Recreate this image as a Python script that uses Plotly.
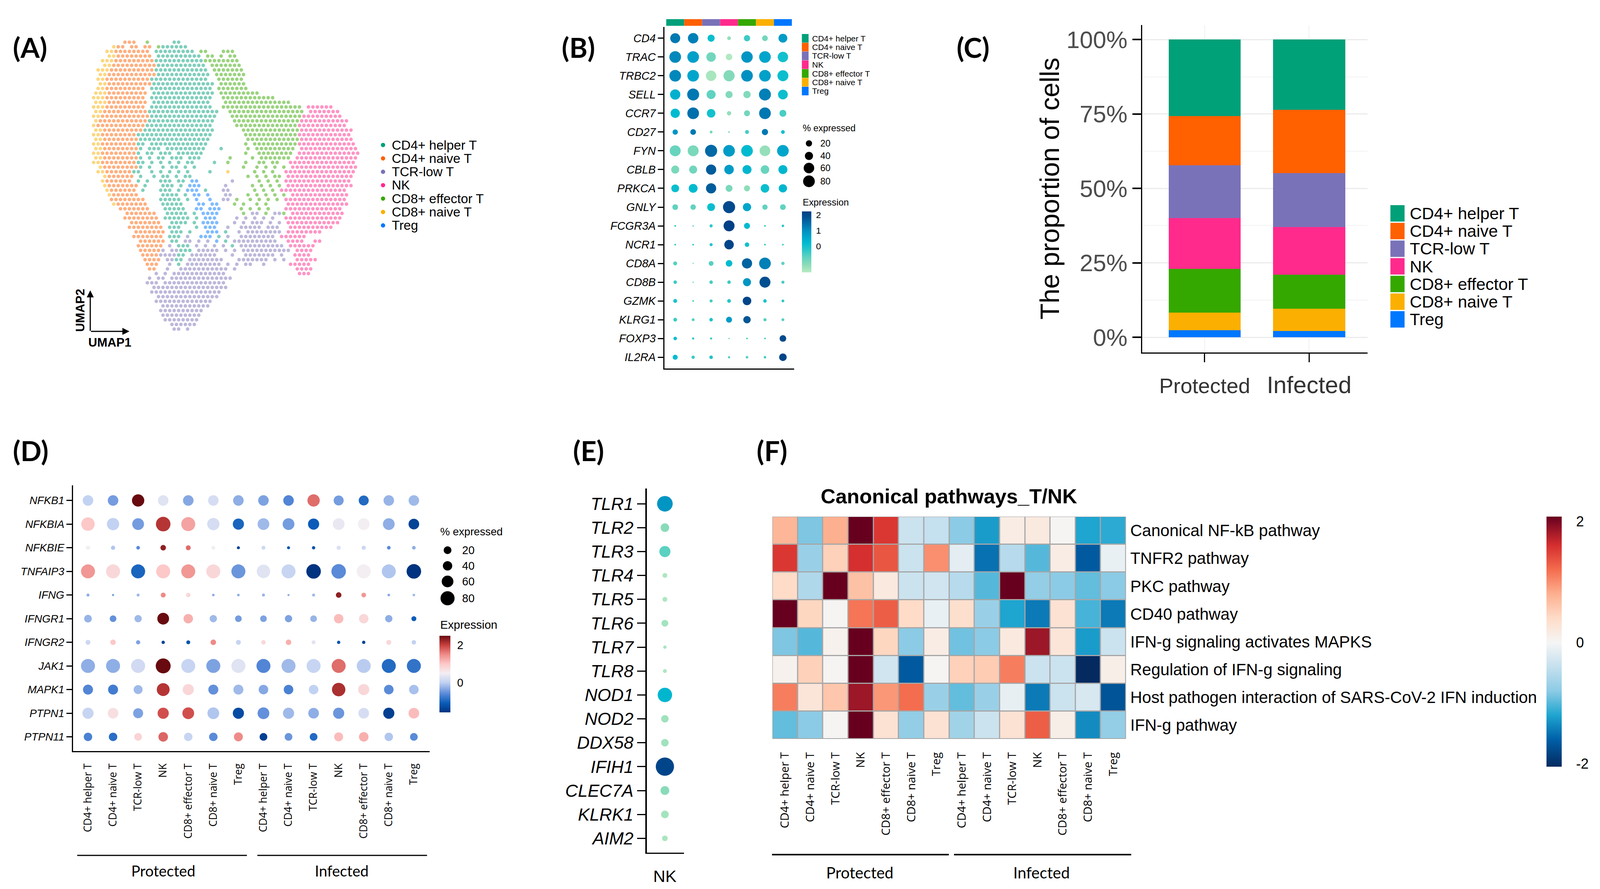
import numpy as np
import plotly.graph_objects as go

# reference size; the page fills the window and all placing below is in fractions of it
W, H = 4290, 2275
SHOWN_W = 4096  # width the browser window really gives
FS = SHOWN_W / W
SANS = "Liberation Sans"
LABEL = "Lato"
OPEN = "Open Sans"

# ---- shared categories
CELL_TYPES = ["CD4+ helper T", "CD4+ naive T", "TCR-low T", "NK", "CD8+ effector T", "CD8+ naive T", "Treg"]
CELL_COLORS = ["#00a079", "#ff6000", "#7a72b8", "#ff2a8c", "#35a800", "#fbaf00", "#0077ff"]
CLUSTER_CODES = "HNTKEVR"
GROUP_COLUMNS = CELL_TYPES + CELL_TYPES

# ---- panel A: occupied cells of the UMAP, one code per cell
UMAP_ROWS = [
    ".......NNN..E.....HH",
    "....VNN.NN.NN.EHHHHHH",
    "...VVNNNNNNNN.HHHHHHHHH.EE...EEE",
    "...VVNNNNNNNN.HHHHHHHHHH.EE.E.EE",
    "..VVVNNNNNNNNNHHHHHHHHHHHEEEEEEEE",
    "..VVNNNNNNNNNNHHHHHHHHHHH.EEEEEEE",
    ".VVVNNNNNNNNNNHHHHHHHHHHHH.EEEEEEE",
    ".VVNNNNNNNNNNNHHHHHHHHHHHH.EEEEEEE",
    ".VVNNNNNNNNNNHHHHHHHHHHHHH..EEEEEE",
    ".VVNNNNNNNNNNHHHHHHHHHHHHHH.EEEEEE",
    ".VVNNNNNNNNN.HHHHHHHHHHHHHH.EEEEEEE",
    "VVVNNNNNNNNN.HHHHHHHHHHHHHH.EEEEEEEEE",
    "VVVNNNNNNNNN.HHHHHHHHHHHHHH..EEEEEEEEEEEE",
    "VVVNNNNNNNNN.HHHHHHHHHHHHH...EEEEEEEEEEEEEEE",
    "VVVNNNNNNNNN.HHHHHHHHHHHHHH..EEEEEEEEEEEEEEEEEE.KKKKKK",
    "VVNNNNNNNNNNHHHHHHHHHHHHHHHH..EEEEEEEEEEEEEEEEE.KKKKKKK",
    "VVNNNNNNNNNNNHHHHHHHHHHHHHHH...EEEEEEEEEEEEEEEEKKKKKKKKK",
    "VNNNNNNNNNNNHHHHHHHHHHHHHHH....EEEEEEEEEEEEEEEKKKKKKKKKKK",
    "VNNNNNNNNNNNHHHHHHHHHHHHHHH.....EEEEEEEEEEEEEEKKKKKKKKKKK",
    "VVNNNNNNNNNHHHHHHHHHHHHHHHH......EEEEEEEEEEEEEKKKKKKKKKKKK",
    "VVNNNNNNNNHHHHHHHHHHHHHHHHH.......EEEEEEEEEEEEKKKKKKKKKKKK",
    "VVNNNNNNNNHHHHHHHHHHHHHHHH........EEEEEEEEEEEEKKKKKKKKKKKK",
    "VVNNNNNNNNHH.HHHHHHHHHHHHH........E.EEEEEEEEEEKKKKKKKKKKKKK",
    "VVNNNNNNNNH.HHH.HHHHHHHHH...H.....E.EEEEEEEEE.KKKKKKKKKKKKK",
    "VVNNNNNNNNH.HH.HHH.HHHHHH.........E..EEEEEEEE.KKKKKKKKKKKKKK",
    "VVNNNNNNNNH.H.HH.HHH.HHH......E....E.EEEEEEE.KKKKKKKKKKKKKK",
    "VVNNNNNNNNHH.H.H.H.H.HH....H..E...E..EE.EE..KKKKKKKKKKKKKKK",
    ".VNNNNNNNNH.H..H.HH.H.H..........E..E.E.E.E.KKKKKKKKKKKKKKK",
    ".VVNNNNNNHH..H.H.H.H.H....H...V.....E.E.E..KKKKKKKKKKKKKKKK",
    "..VNNNNNN.H..H.HH.H.HH............E.E.E.EE.KKKKKKKKKKKKKKK",
    "..VNNNNNN.H.H..HHH.HH.RR.......T.....E.E.E.KKKKKKKKKKKKKKK",
    "..VNNNNNNN.H...HHH.H.RRR.....T.....E.E.E.E.KKKKKKKKKKKKKKK",
    "...VNNNNNN.H...HHH.H.RRR.H...TT.....E.E.E.KKKKKKKKKKKKKKK",
    "...VNNNNNN.....HHHH.H.RR.R...TT...E.E.E.E.E.KKKKKKKKKKKKK",
    "....NNNNNNNN...HHHHH.H.R..R..TT.E..E.E.E.E.KKKKKKKKKKKKKK",
    "....VNNNNNNN...HHHHH...RR.RR...E.E..E.E....KKKKKKKKKKKKKK",
    "......NNNNNNN...HHHHH..RR.RRR....E.E.E.E...KKKKKKKKKKKKK",
    ".......NNNNNNN..HHHHH.H.RRRR.....E.TT.E.TTE.KKKKKKKKKKKK",
    ".......NNNNNNNN.HHHHHH.H.RRR....T.T.T.T.T..KKKKKKKKKKKKK",
    "........NNNNNNN..HHHH.H.RRRR...T.T.TTT.T.T.KKKKKKKKKKKK",
    "........NNNNNNNN.HHH...H.RRR..T..TTTTT.TTT..KKKKKKKKKK",
    ".........NNNNNNN.HHH.H...RRR.H..T.TTTTTTTT.KKKKKKKK",
    ".........NNNNNNN.HHH.T..RRR.H.T..TTTTTTTT.KKKKKK",
    "..........NNNNNN.HH.TT.T.T.R.H.TTTTTTTTTT..KKKK..KK",
    "..........NNNNNN.T.HHH.T.T.T.T.H.TTTTTTTTTT.KKKKKK",
    "..........NNNNNT.TTHHH.TTTTT.T.T.TTTTTTTTTTT.KKKK",
    "...........NNNNTTTTHH.TTTTTT...T..TTTTTTT.T..KKKK",
    "...........NNNN.TTHH.TTTTTTTT...TTTTTTT.T.T..KKKKK",
    "............NNN..T.H.TTTTTTTT.T.T.TT..T.....KKKKK",
    "............NN..T..TTTTTTTTTTT.T.............KKKK",
    "..............T.T.TTTTTTTTTTTT................KKK",
    "............T.TT.TTTTTTTTTTTTTT",
    "............TTT.TTTTTTTTTTTTTT",
    ".............TTTTTTTTTTTTTTTTT",
    ".............TTTTTTTTTTTTTTTT",
    "..............TTTTTTTTTTTTTT",
    "..............TTTTTTTTTTTTT",
    "...............TTTTTTTTTTT",
    "...............TTTTTTTTTT",
    "...............TTTTTTTTT",
    "................TTTTTTTT",
    ".................TTTTTT",
    "..................TT.T",
]

# ---- panel B
B_GENES = ["CD4", "TRAC", "TRBC2", "SELL", "CCR7", "CD27", "FYN", "CBLB", "PRKCA", "GNLY", "FCGR3A", "NCR1",
           "CD8A", "CD8B", "GZMK", "KLRG1", "FOXP3", "IL2RA"]
B_PCT = [
    [64, 70, 33, 9, 25, 21, 50],
    [87, 87, 58, 28, 84, 87, 70],
    [87, 87, 70, 80, 87, 87, 77],
    [67, 91, 52, 33, 35, 91, 61],
    [55, 87, 47, 12, 23, 87, 31],
    [18, 21, 5, 2, 10, 25, 9],
    [77, 77, 94, 87, 87, 73, 87],
    [42, 42, 67, 58, 52, 47, 52],
    [40, 50, 67, 31, 23, 47, 44],
    [21, 19, 40, 94, 44, 18, 21],
    [2, 1, 6, 77, 23, 2, 4],
    [2, 2, 6, 58, 13, 2, 2],
    [10, 1, 15, 28, 67, 87, 7],
    [8, 1, 8, 8, 42, 77, 6],
    [10, 2, 6, 9, 47, 8, 5],
    [9, 5, 8, 23, 35, 6, 5],
    [8, 3, 3, 1, 2, 2, 28],
    [16, 7, 8, 3, 4, 4, 37],
]
B_EXPR = [
    [1.3, 1.2, 0.1, -1.3, -0.4, -0.9, 0.8],
    [1.1, 0.7, -0.9, -1.6, 0.9, 0.6, 0.0],
    [1.1, 0.6, -1.5, -1.1, 1.0, 0.7, 0.1],
    [0.4, 1.3, -0.7, -1.1, -1.1, 1.2, 0.1],
    [0.2, 1.4, 0.0, -1.3, -0.9, 1.3, -0.5],
    [0.9, 1.3, -1.0, -1.2, -0.5, 1.3, 0.0],
    [-0.8, -1.0, 1.5, 0.8, 0.2, -1.3, 0.6],
    [-1.0, -0.9, 1.7, 0.8, 0.3, -0.8, 0.3],
    [0.1, 0.2, 1.7, -1.0, -1.2, 0.1, 0.3],
    [-0.7, -0.7, 0.1, 2.0, 0.6, -0.7, -0.7],
    [-0.2, -0.2, -0.3, 2.2, 0.2, -0.3, -0.3],
    [-0.3, -0.3, -0.2, 2.1, 0.0, -0.3, -0.4],
    [-0.6, -0.9, -0.6, 0.2, 1.6, 1.2, -0.7],
    [-0.4, -0.6, -0.5, -0.4, 0.9, 1.9, -0.5],
    [-0.1, -0.6, -0.5, -0.2, 2.1, -0.1, -0.3],
    [-0.4, -0.6, -0.1, 0.8, 1.8, -0.6, -0.6],
    [0.1, -0.2, -0.4, -0.5, -0.6, -0.5, 2.0],
    [0.2, -0.4, -0.1, -0.5, -0.6, -0.5, 2.1],
]

# ---- panel C
C_GROUPS = ["Protected", "Infected"]
C_PROTECTED = [25.7, 16.5, 17.7, 17.1, 14.7, 5.9, 2.4]
C_INFECTED = [23.6, 21.3, 18.0, 16.1, 11.4, 7.5, 2.1]

# ---- panel D
D_GENES = ["NFKB1", "NFKBIA", "NFKBIE", "TNFAIP3", "IFNG", "IFNGR1", "IFNGR2", "JAK1", "MAPK1", "PTPN1", "PTPN11"]
D_PCT = [
    [50, 50, 68, 50, 50, 50, 50, 50, 50, 68, 45, 45, 50, 50],
    [81, 68, 62, 95, 88, 68, 56, 62, 62, 56, 62, 62, 62, 51],
    [8, 8, 6, 14, 11, 7, 4, 7, 4, 5, 8, 8, 6, 6],
    [88, 88, 88, 88, 88, 88, 88, 81, 88, 95, 95, 88, 88, 95],
    [4, 2, 4, 11, 9, 3, 3, 4, 2, 4, 14, 10, 3, 3],
    [27, 20, 24, 62, 40, 24, 20, 20, 24, 20, 40, 40, 24, 11],
    [11, 14, 8, 5, 7, 14, 11, 9, 14, 7, 5, 5, 11, 9],
    [88, 88, 88, 100, 88, 88, 88, 88, 88, 88, 88, 88, 88, 88],
    [45, 45, 36, 74, 56, 45, 45, 41, 41, 41, 81, 56, 41, 41],
    [56, 51, 45, 56, 62, 62, 56, 62, 56, 51, 56, 51, 56, 51],
    [32, 32, 27, 41, 32, 32, 36, 27, 27, 27, 36, 41, 32, 27],
]
D_EXPR = [
    [0.0, -0.45, 2.5, 0.3, -0.35, 0.2, -0.3, -0.4, -0.65, 1.7, -0.45, -0.95, -0.25, -0.2],
    [1.0, 0.0, -0.45, 2.1, 1.3, 0.2, -1.0, -0.2, -0.45, -1.1, 0.4, 0.5, -0.3, -1.4],
    [0.5, -0.1, -0.6, 2.3, 1.7, 0.5, -1.4, 0.1, -1.2, -1.2, 0.25, 0.1, -0.6, -0.3],
    [1.4, 0.8, -1.0, 1.0, 1.4, 0.8, -0.5, 0.3, 0.05, -1.6, -0.6, 0.5, -0.1, -1.6],
    [-0.3, -0.45, -0.2, 1.5, 0.8, -0.3, -0.3, -0.25, -0.3, -0.2, 2.3, 1.4, -0.35, -0.2],
    [-0.25, -0.55, -0.2, 2.5, 1.2, -0.2, -0.45, -0.4, -0.4, -0.25, 1.1, 0.8, -0.3, -1.1],
    [0.1, 1.0, -0.4, -1.4, -1.2, 1.5, 0.05, 0.8, 1.2, 0.3, -1.2, -1.4, 0.8, 0.0],
    [-0.3, -0.3, 0.15, 2.5, 0.05, -0.4, 0.3, -0.65, -0.2, 0.05, 1.7, -0.05, -0.95, -0.85],
    [-0.65, -0.75, -0.2, 2.1, 0.8, -0.55, -0.2, -0.35, -0.7, 0.0, 2.15, 0.8, -0.6, -0.15],
    [0.05, 0.7, -0.4, 1.9, 1.9, -0.1, -1.3, -0.55, -0.2, -0.3, -0.5, 0.2, -1.45, 1.1],
    [-0.7, -0.9, 0.85, 1.75, 0.05, -0.6, 1.5, -1.45, -0.5, -0.95, 1.1, 1.2, -0.1, -0.6],
]

# ---- panel E
E_GENES = ["TLR1", "TLR2", "TLR3", "TLR4", "TLR5", "TLR6", "TLR7", "TLR8", "NOD1", "NOD2", "DDX58", "IFIH1",
           "CLEC7A", "KLRK1", "AIM2"]
E_PCT = [73, 22, 37, 7, 7, 14, 3.4, 4.6, 62, 17, 17, 100, 23, 18, 9.4]
E_EXPR = [0.9, -1.15, -0.65, -1.55, -1.55, -1.45, -1.5, -1.55, 0.3, -1.4, -1.4, 2.1, -1.15, -1.45, -1.5]

# ---- panel F
F_PATHWAYS = ["Canonical NF-kB pathway", "TNFR2 pathway", "PKC pathway", "CD40 pathway",
              "IFN-g signaling activates MAPKS", "Regulation of IFN-g signaling",
              "Host pathogen interaction of SARS-CoV-2 IFN induction", "IFN-g pathway"]
F_VALUES = [
    [0.75, -0.85, 0.8, 2.1, 1.55, -0.35, -0.4, -0.8, -1.25, 0.15, 0.2, 0.02, -1.2, -1.15],
    [1.55, -0.7, 0.5, 1.6, 1.35, -0.35, 1.0, -0.15, -1.5, -0.5, -1.0, 0.15, -1.65, -0.1],
    [0.4, -0.55, 2.1, 0.65, 0.2, -0.35, -0.3, -0.5, -1.0, 2.1, -0.75, -0.8, -0.95, -0.8],
    [2.1, 0.45, 0.02, 1.15, 1.3, 0.4, -0.1, 0.35, -0.7, -1.2, -1.45, 0.3, -1.05, -1.45],
    [-0.85, -1.0, 0.07, 2.1, 0.45, -0.8, 0.15, -0.9, -0.8, 0.2, 1.85, 0.25, -1.25, -0.35],
    [0.07, 0.5, 0.02, 2.1, -0.3, -1.65, 0.02, 0.5, 0.55, 1.1, -0.35, -0.35, -2.05, 0.12],
    [1.1, 0.25, 0.6, 1.85, 0.95, 1.2, -0.7, -0.95, -0.7, -0.12, -1.45, -0.35, -0.25, -1.7],
    [-0.95, -0.8, 0.02, 2.1, 0.3, -0.75, 0.3, -0.65, -0.35, 0.3, 1.3, 0.12, -1.35, -0.75],
]

# ---- colour scales
TEAL_STOPS = [(-1.67, "#b8ebc2"), (-1.2, "#8cdcb8"), (-0.7, "#60d2c0"), (-0.3, "#30c8c8"), (0.2, "#00bbd0"),
              (0.6, "#00a5cc"), (1.0, "#0090c0"), (1.4, "#0070ac"), (1.9, "#004f90"), (2.22, "#003f85")]
RED_BLUE_STOPS = [(-1.6, "#003380"), (-1.1, "#0a5cb8"), (-0.6, "#5a8ad8"), (0.0, "#c2d2f2"), (0.5, "#f3eef2"),
                  (1.0, "#fdc8c8"), (1.5, "#ee8b88"), (2.0, "#c8403e"), (2.5, "#680a10")]
HEAT_STOPS = [(-2.05, "#052a60"), (-1.6, "#0060a8"), (-1.2, "#1ea5d0"), (-0.8, "#8ccbe5"), (-0.4, "#c5e0ee"),
              (0.0, "#f5f5f5"), (0.4, "#fedcc8"), (0.8, "#fdb090"), (1.2, "#f46d4e"), (1.6, "#d62f2f"),
              (2.08, "#67001f")]


def scale(stops):
    lo, hi = stops[0][0], stops[-1][0]
    return [[(v - lo) / (hi - lo), c] for v, c in stops]


def px_x(x):
    return x / W


def px_y(y):
    return 1 - y / H


def domain_x(a, b):
    return [a / W, b / W]


def domain_y(top, bottom):
    return [1 - bottom / H, 1 - top / H]


annotations = []
shapes = []


def note(x, y, text, size, family=SANS, anchor="left", color="black", angle=0):
    annotations.append(dict(x=px_x(x), y=px_y(y), xref="paper", yref="paper", text=text, showarrow=False,
                            xanchor=anchor, yanchor="middle", textangle=angle,
                            font=dict(family=family, size=size * FS, color=color)))


def box(x0, y0, x1, y1, color):
    shapes.append(dict(type="rect", xref="paper", yref="paper", x0=px_x(x0), x1=px_x(x1), y0=px_y(y0), y1=px_y(y1),
                       fillcolor=color, line=dict(width=0)))


def dot(cx, cy, d, color="black"):
    shapes.append(dict(type="circle", xref="paper", yref="paper", x0=px_x(cx) - d / 2 / SHOWN_W,
                       x1=px_x(cx) + d / 2 / SHOWN_W, y0=px_y(cy) - d / 2 / H, y1=px_y(cy) + d / 2 / H,
                       fillcolor=color, line=dict(width=0)))


def rule(x0, x1, y, width):
    shapes.append(dict(type="line", xref="paper", yref="paper", x0=px_x(x0), x1=px_x(x1), y0=px_y(y), y1=px_y(y),
                       line=dict(color="black", width=width)))


def dot_trace(pct, expr, k, stops, axis_id, genes, columns, colorbar=None):
    xs, ys, sizes, colors = [], [], [], []
    for i, gene in enumerate(genes):
        for j, col in enumerate(columns):
            xs.append(j)
            ys.append(i)
            sizes.append(k * np.sqrt(pct[i][j]))
            colors.append(expr[i][j])
    marker = dict(size=sizes, sizemode="diameter", color=colors, colorscale=scale(stops), cmin=stops[0][0],
                  cmax=stops[-1][0], line=dict(width=0), showscale=colorbar is not None, opacity=1)
    if colorbar is not None:
        marker["colorbar"] = colorbar
    return go.Scatter(x=xs, y=ys, mode="markers", marker=marker, xaxis="x" + axis_id, yaxis="y" + axis_id,
                      showlegend=False, hoverinfo="skip")


def side_bar(left, top, bottom, thickness, ticks, ticklen, size, labels=None):
    return dict(x=left / W, xanchor="left", y=1 - bottom / H, yanchor="bottom", len=(bottom - top) / H,
                thickness=thickness * FS, thicknessmode="pixels", xpad=0, ypad=0, outlinewidth=0,
                tickvals=ticks, ticktext=labels if labels else [str(t) for t in ticks], ticks="outside",
                ticklen=ticklen, tickcolor="rgba(0,0,0,0)",
                tickfont=dict(family=SANS, size=size * FS, color="black"))


fig = go.Figure()

# panel A
for code, name, color in zip(CLUSTER_CODES, CELL_TYPES, CELL_COLORS):
    xs, ys = [], []
    for r, row in enumerate(UMAP_ROWS):
        for c, ch in enumerate(row):
            if ch == code:
                xs.append(c + 0.5 * (r % 2))
                ys.append(r)
    fig.add_trace(go.Scatter(x=xs, y=ys, mode="markers", name=name, xaxis="x", yaxis="y", showlegend=False,
                             hoverinfo="skip", marker=dict(size=9, color=color, opacity=0.5, line=dict(width=0))))

# panel B
fig.add_trace(dot_trace(B_PCT, B_EXPR, 3.35 * FS, TEAL_STOPS, "2", B_GENES, CELL_TYPES,
                        side_bar(2150, 541, 697, 25, [0, 1, 2], 8, 24)))

# panel C: bars stack from the bottom, Treg first
for i in reversed(range(len(CELL_TYPES))):
    fig.add_trace(go.Bar(x=[0, 1], y=[C_PROTECTED[i], C_INFECTED[i]], name=CELL_TYPES[i], width=0.69,
                         marker=dict(color=CELL_COLORS[i], line=dict(width=0)), xaxis="x3", yaxis="y3",
                         showlegend=False, hoverinfo="skip"))

# panel D
fig.add_trace(dot_trace(D_PCT, D_EXPR, 4.0 * FS, RED_BLUE_STOPS, "4", D_GENES, GROUP_COLUMNS,
                        side_bar(1178, 1627, 1823, 29, [0, 2], 12, 30)))

# panel E
fig.add_trace(dot_trace([[p] for p in E_PCT], [[e] for e in E_EXPR], 4.9 * FS, TEAL_STOPS, "5", E_GENES, ["NK"]))

# panel F
fig.add_trace(go.Heatmap(z=F_VALUES, x=list(range(14)), y=list(range(8)), xgap=3, ygap=3,
                         colorscale=scale(HEAT_STOPS), zmin=HEAT_STOPS[0][0], zmax=HEAT_STOPS[-1][0],
                         xaxis="x6", yaxis="y6", hoverinfo="skip",
                         colorbar=side_bar(4147, 1322, 1962, 41, [-2, 0, 2], 30, 38)))
shapes.append(dict(type="rect", xref="x6", yref="y6", x0=-0.5, x1=13.5, y0=-0.5, y1=7.5, layer="below",
                   fillcolor="#a6a6a6", line=dict(color="#a6a6a6", width=3)))

hidden = dict(visible=False)
gene_tick = dict(showline=True, linecolor="black", linewidth=3, ticks="outside", tickcolor="black", showgrid=False,
                 zeroline=False, tickmode="array", ticklen=14, tickwidth=3)
bottom_axis = dict(showline=True, linecolor="black", linewidth=3, showgrid=False, zeroline=False, tickmode="array",
                   ticks="")


def italics(names):
    return ["<i>%s</i>" % n for n in names]


fig.update_layout(
    autosize=True, template="none", paper_bgcolor="white", plot_bgcolor="white", barmode="stack",
    showlegend=False, margin=dict(l=0, r=0, t=0, b=0, autoexpand=False), font=dict(family=SANS),
    # A
    xaxis=dict(domain=domain_x(245, 965), range=[-0.5, 59.5], **hidden),
    yaxis=dict(domain=domain_y(102, 848), range=[62.5, -0.5], **hidden),
    # B
    xaxis2=dict(domain=domain_x(1782, 2129), range=[-0.59, 6.62], anchor="y2", tickvals=[], **bottom_axis),
    yaxis2=dict(domain=domain_y(69, 943), range=[17.6, -0.6], anchor="x2", tickvals=list(range(18)),
                ticktext=italics(B_GENES), tickfont=dict(family=SANS, size=30 * FS, color="black"), **gene_tick),
    # C
    xaxis3=dict(domain=domain_x(3062, 3667), range=[-0.6, 1.56], anchor="y3", tickmode="array", tickvals=[0, 1],
                ticktext=[C_GROUPS[0], "<span style='font-size:61px'>%s</span>" % C_GROUPS[1]],
                tickfont=dict(family=SANS, size=57 * FS, color="#333333"), showline=True, linecolor="black",
                linewidth=3, ticks="outside", ticklen=22, tickwidth=3, tickcolor="black", showgrid=True,
                gridcolor="#f0f0f0", gridwidth=2, zeroline=False, ticklabelstandoff=14),
    yaxis3=dict(domain=domain_y(64, 902), range=[-5.1, 104.9], anchor="x3", tickmode="array",
                tickvals=[0, 25, 50, 75, 100], ticktext=["0%", "25%", "50%", "75%", "100%"],
                tickfont=dict(family=SANS, size=64 * FS, color="#4d4d4d"), showline=True, linecolor="black",
                linewidth=3, ticks="outside", ticklen=22, tickwidth=4, tickcolor="black", showgrid=True,
                gridcolor="#ebebeb", gridwidth=3, zeroline=False,
                minor=dict(tickvals=[12.5, 37.5, 62.5, 87.5], showgrid=True, gridcolor="#f3f3f3", gridwidth=2,
                           ticks="")),
    # D
    xaxis4=dict(domain=domain_x(196, 1152), range=[-0.594, 13.63], anchor="y4", tickvals=list(range(14)),
                ticktext=GROUP_COLUMNS, tickangle=-90, ticklabelstandoff=18,
                tickfont=dict(family=OPEN, size=28 * FS, color="black"), **bottom_axis),
    yaxis4=dict(domain=domain_y(1242, 1922), range=[10.6, -0.64], anchor="x4", tickvals=list(range(11)),
                ticktext=italics(D_GENES), tickfont=dict(family=SANS, size=29 * FS, color="black"), **gene_tick),
    # E
    xaxis5=dict(domain=domain_x(1734, 1834), range=[-0.97, 1.02], anchor="y5", tickvals=[0], ticktext=["NK"],
                tickfont=dict(family=SANS, size=45 * FS, color="black"), ticklabelstandoff=20, **bottom_axis),
    yaxis5=dict(domain=domain_y(1250, 2182), range=[14.6, -0.64], anchor="x5", tickvals=list(range(15)),
                ticktext=italics(E_GENES), tickfont=dict(family=SANS, size=47 * FS, color="black"),
                **{**gene_tick, "ticklen": 21, "linewidth": 4}),
    # F
    xaxis6=dict(domain=domain_x(2071, 3019), range=[-0.5, 13.5], anchor="y6", tickmode="array",
                tickvals=list(range(14)), ticktext=GROUP_COLUMNS, tickangle=-90, ticklabelstandoff=27,
                tickfont=dict(family=OPEN, size=31 * FS, color="black"), showline=False, showgrid=False,
                zeroline=False, ticks=""),
    yaxis6=dict(domain=domain_y(1322, 1891), range=[7.5, -0.5], anchor="x6", side="right", tickmode="array",
                tickvals=list(range(8)), ticktext=F_PATHWAYS, tickfont=dict(family=SANS, size=44 * FS, color="black"),
                showline=False, showgrid=False, zeroline=False, ticks="", ticklabelstandoff=10),
)

# panel letters
for x, y, text in [(32, 121, "(A)"), (1504, 121, "(B)"), (2563, 121, "(C)"), (32, 1152, "(D)"), (1534, 1152, "(E)"),
                   (2027, 1152, "(F)")]:
    note(x, y, "<b>%s</b>" % text, 74, family=LABEL)

# panel A legend and arrows
for i, name in enumerate(CELL_TYPES):
    y = 371 + 34.3 * i
    dot(1027, y, 11, CELL_COLORS[i])
    note(1048, y, name, 35)
for ax, ay, hx, hy in [(0, 105, 242, 743), (-100, 0, 347, 848)]:
    annotations.append(dict(x=px_x(hx), y=px_y(hy), xref="paper", yref="paper", ax=ax, ay=ay, axref="pixel",
                            ayref="pixel", text="", showarrow=True, arrowhead=2, arrowsize=1.2, arrowwidth=3,
                            arrowcolor="black"))
note(215, 794, "<b>UMAP2</b>", 33, anchor="center", angle=-90)
note(294, 876, "<b>UMAP1</b>", 33, anchor="center")

# panel B extras: header strip, legends
for i, color in enumerate(CELL_COLORS):
    shapes.append(dict(type="rect", xref="x2", yref="paper", x0=i - 0.5, x1=i + 0.5, y0=px_y(66), y1=px_y(49),
                       fillcolor=color, line=dict(width=0)))
    y = 98 + 22.5 * i
    box(2150, y - 11, 2168, y + 11, color)
    note(2175, y, CELL_TYPES[i], 22)
note(2150, 328, "% expressed", 24.5)
for label, y, d in [("20", 367, 16), ("40", 399, 21), ("60", 430, 27), ("80", 464, 30)]:
    dot(2169, y, d)
    note(2197, y, label, 24.5)
note(2150, 517, "Expression", 25)

# panel C extras
note(2814, 483, "The proportion of cells", 71, anchor="center", angle=-90)
for i, name in enumerate(CELL_TYPES):
    y = 546 + 45.2 * i
    box(3728, y - 21, 3766, y + 21, CELL_COLORS[i])
    note(3778, y, name, 45)

# panel D extras
note(1178, 1360, "% expressed", 29)
for label, y, d in [("20", 1408, 20), ("40", 1448, 24), ("60", 1488, 30), ("80", 1531, 36)]:
    dot(1200, y, d)
    note(1237, y, label, 30)
note(1178, 1598, "Expression", 31)
rule(207, 662, 2189, 3)
rule(690, 1145, 2189, 3)
note(438, 2228, "Protected", 40, family=LABEL, anchor="center")
note(916, 2228, "Infected", 40, family=LABEL, anchor="center")

# panel F extras
note(2544, 1269, "<b>Canonical pathways_T/NK</b>", 55, anchor="center")
rule(2070, 2544, 2187, 4)
rule(2558, 3033, 2187, 4)
note(2305, 2232, "Protected", 42, family=LABEL, anchor="center")
note(2793, 2232, "Infected", 42, family=LABEL, anchor="center")

fig.update_layout(annotations=annotations, shapes=shapes)
fig.write_html("out.html", config=dict(displayModeBar=False),
               post_script="document.body.style.margin='0';window.dispatchEvent(new Event('resize'));")
